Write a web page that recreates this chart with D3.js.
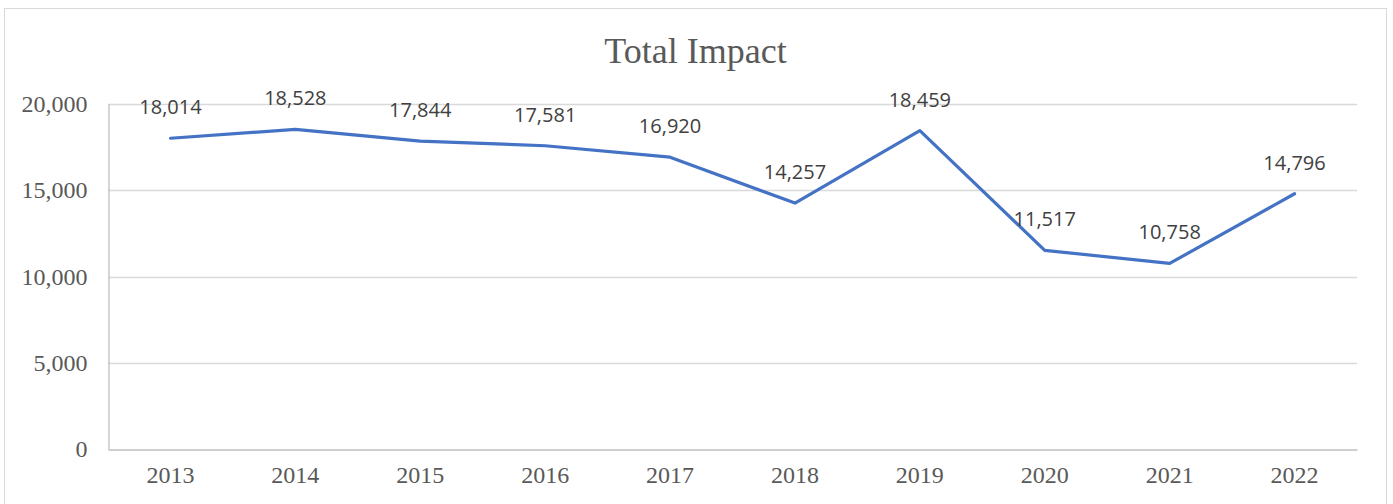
<html>
<head>
    <style>
        body { margin: 0; background: white; }
        .title { font-family: "Liberation Serif", "Times New Roman", serif; }
        .tick text { font-family: "Liberation Serif", "Times New Roman", serif; }
    </style>
    <script src="https://cdn.jsdelivr.net/npm/d3@7"></script>
</head>
<body>
<svg id="chart"></svg>
<script>
    // chart data
    let years = ["2013", "2014", "2015", "2016", "2017", "2018", "2019", "2020", "2021", "2022"]
    let impact = [18014, 18528, 17844, 17581, 16920, 14257, 18459, 11517, 10758, 14796]
    let yTicks = [0, 5000, 10000, 15000, 20000]

    let width = 1393, height = 504
    let margin = {left: 108, right: 36, top: 104, bottom: 55}

    let svg = d3.select("#chart")
        .attr("width", width)
        .attr("height", height)

    // outer chart border
    svg.append("rect")
        .attr("x", 4.5).attr("y", 8.5)
        .attr("width", 1382).attr("height", 520)
        .attr("fill", "none")
        .attr("stroke", "#d9d9d9")

    svg.append("text")
        .attr("class", "title")
        .attr("x", 695.5).attr("y", 63)
        .attr("text-anchor", "middle")
        .attr("font-size", 36)
        .attr("fill", "#595959")
        .text("Total Impact")

    let x = d3.scaleBand()
        .domain(years)
        .range([margin.left, width - margin.right])

    let y = d3.scaleLinear()
        .domain([0, 20000])
        .range([height - margin.bottom, margin.top])

    // gridlines
    svg.append("g")
        .selectAll("line")
        .data(yTicks.filter(d => d > 0))
        .enter().append("line")
        .attr("x1", margin.left).attr("x2", width - margin.right)
        .attr("y1", d => Math.round(y(d)) + 0.5).attr("y2", d => Math.round(y(d)) + 0.5)
        .attr("stroke", "#d9d9d9")
        .attr("stroke-width", 1.3)

    // y axis
    let yAxis = svg.append("g")
        .attr("transform", `translate(${margin.left + 0.5},0)`)
        .call(d3.axisLeft(y).tickValues(yTicks).tickSize(0).tickPadding(21).tickFormat(d3.format(",")))
    yAxis.select(".domain").attr("stroke", "#bfbfbf").attr("stroke-width", 1.3)
    yAxis.selectAll("text").attr("font-size", 24).attr("fill", "#595959")

    // x axis
    let xAxis = svg.append("g")
        .attr("transform", `translate(0,${Math.round(y(0)) + 0.5})`)
        .call(d3.axisBottom(x).tickSize(0).tickPadding(16))
    xAxis.select(".domain").attr("stroke", "#bfbfbf").attr("stroke-width", 1.3)
    xAxis.selectAll("text").attr("font-size", 24).attr("fill", "#595959")

    let cx = d => x(d) + x.bandwidth() / 2

    let line = d3.line()
        .x((d, i) => cx(years[i]))
        .y(d => y(d))

    svg.append("path")
        .datum(impact)
        .attr("d", line)
        .attr("fill", "none")
        .attr("stroke", "#4472c4")
        .attr("stroke-width", 3.2)
        .attr("stroke-linejoin", "round")
        .attr("stroke-linecap", "round")

    // data labels
    svg.append("g")
        .selectAll("text")
        .data(impact)
        .enter().append("text")
        .attr("x", (d, i) => cx(years[i]))
        .attr("y", d => y(d) - 24)
        .attr("text-anchor", "middle")
        .attr("font-family", "'Open Sans', 'Noto Sans', sans-serif")
        .attr("font-size", 20)
        .attr("fill", "#404040")
        .text(d => d3.format(",")(d))
</script>
</body>
</html>
